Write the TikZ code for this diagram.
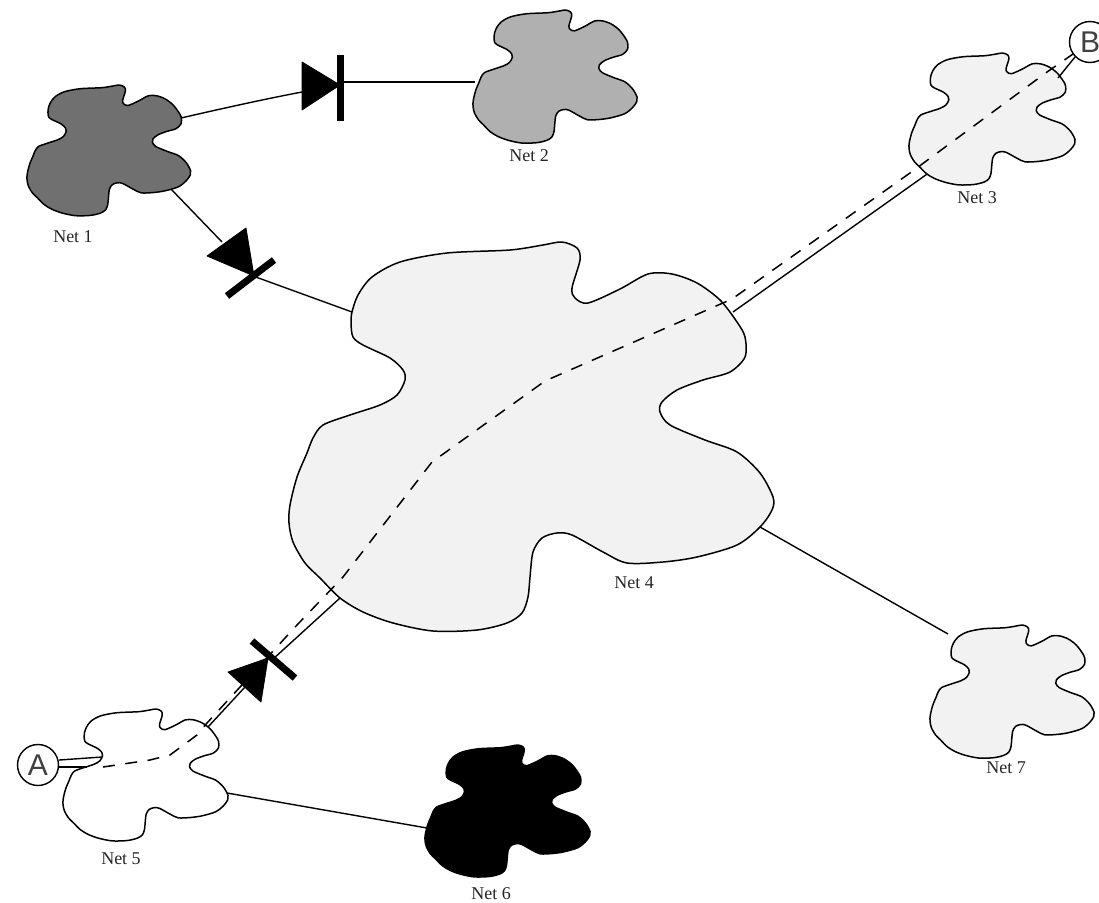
\documentclass[tikz,border=0pt]{standalone}
\usepackage{fontspec}
\setmainfont{Liberation Serif}
\newfontfamily\circfont{Liberation Sans}
\definecolor{netdark}{HTML}{707070}
\definecolor{netmid}{HTML}{B0B0B0}
\definecolor{netpale}{HTML}{F2F2F2}
\newcommand{\netblob}[5]{%
  \begin{scope}[shift={(#2,#3)},xscale=#4,yscale=#5]
    \draw[blobline,fill=#1] plot[smooth cycle,tension=0.5] coordinates {
    (63,70)(69,53)(83,35)(111,20)(158,11)(221,8)(254,3)(273,0)(288,6)(291,18)
    (283,46)(286,56)(299,61)(331,47)(359,32)(383,32)(408,41)(431,58)(448,80)
    (456,95)(456,115)(441,130)(414,138)(388,148)(373,160)(371,170)(381,183)
    (416,198)(448,210)(471,231)(484,255)(483,268)(471,285)(448,303)(408,315)
    (374,320)(338,321)(314,310)(283,293)(268,291)(253,296)(244,310)(241,335)
    (239,355)(233,371)(218,381)(188,388)(144,389)(104,381)(74,370)(51,356)
    (31,336)(16,321)(4,300)(0,281)(1,263)(8,235)(18,211)(24,196)(34,183)(61,173)
    (91,163)(108,153)(116,138)(114,128)(101,116)(74,103)(64,95)(62,81)};
  \end{scope}}
\tikzset{
  blobline/.style={draw=black,line width=1.5pt,line join=round},
  wire/.style={draw=black,line width=1.4pt},
  dashwire/.style={draw=black,line width=1.5pt,dash pattern=on 12pt off 10.5pt},
  netlabel/.style={font=\fontsize{18}{18}\selectfont,text=black!85,inner sep=0pt},
  endcircle/.style={circle,draw=black,line width=1.4pt,fill=white,minimum size=41pt,inner sep=0pt,font=\circfont\fontsize{30}{30}\selectfont,text=black!75},
  diodetri/.style={fill=black,draw=black,line width=0.8pt,line join=round},
  diodebar/.style={draw=black,line width=7pt}
}
\begin{document}
\begin{tikzpicture}[x=1pt,y=-1pt]
\useasboundingbox[fill=white] (0,0) rectangle (1099,902);
\clip (0,0) rectangle (1099,902);
% anchors
\coordinate (n1a) at (181,118);
\coordinate (n1b) at (170,188);
\coordinate (n2a) at (475,82);
\coordinate (n3a) at (930,172);
\coordinate (n3b) at (1058,78);
\coordinate (n4a) at (352,312);
\coordinate (n4b) at (733,312);
\coordinate (n4c) at (340,598);
\coordinate (n4d) at (760,527);
\coordinate (n5a) at (208,727);
\coordinate (n5b) at (227,793);
\coordinate (n5c) at (102,757);
\coordinate (n6a) at (427,828);
\coordinate (n7a) at (948,634);
\coordinate (d1a) at (302,92);
\coordinate (d1k) at (340,82);
\coordinate (d2a) at (222,242);
\coordinate (d2k) at (253,276);
\coordinate (d3a) at (245,687);
\coordinate (d3k) at (272,660);
% connectors under blobs
\draw[wire] (n1a) .. controls (220,109) and (265,99) .. (d1a);
\draw[wire] (d1k) -- (n2a);
\draw[wire] (n1b) -- (d2a);
\draw[wire] (d2k) -- (n4a);
\draw[wire] (n4c) -- (d3k);
\draw[wire] (d3a) -- (n5a);
\draw[wire] (n4d) -- (n7a);
\draw[wire] (n5b) -- (n6a);
\draw[wire] (n3a) -- (n4b);
% blobs
\netblob{netdark}{27}{85}{0.338}{0.336}
\netblob{netmid}{473}{10}{0.339}{0.342}
\netblob{netpale}{909}{53}{0.343}{0.339}
\netblob{netpale}{289}{242}{1}{1}
\netblob{white}{63}{709}{0.341}{0.339}
\netblob{black}{425}{745}{0.341}{0.339}
\netblob{netpale}{930}{625}{0.339}{0.342}
% labels
\node[netlabel] (l1) at (73,237) {Net 1};
\node[netlabel] (l2) at (529,156) {Net 2};
\node[netlabel] (l3) at (977,198) {Net 3};
\node[netlabel] (l4) at (634,583) {Net 4};
\node[netlabel] (l5) at (121,859) {Net 5};
\node[netlabel] (l6) at (491,894) {Net 6};
\node[netlabel] (l7) at (1006,768) {Net 7};
% traced route
\draw[dashwire] (103,767) -- (150,760) -- (170,755) -- (197,735) -- (207,723)
  -- (297,625) -- (343,577) -- (432,462) -- (545,381) -- (732,299)
  -- (910,173) -- (1047,72) -- (1073,54);
% diodes
\fill[diodetri] (302,62) -- (302,110) -- (340,85) -- cycle;
\draw[diodebar] (340,55) -- (340,121);
\fill[diodetri] (207,256) -- (246,228) -- (254,276) -- cycle;
\draw[diodebar] (227,296) -- (274,260);
\fill[diodetri] (228,672) -- (261,702) -- (268,658) -- cycle;
\draw[diodebar] (252,641) -- (295,678);
% end circles
\node[endcircle] (A) at (38,765) {A};
\node[endcircle] (B) at (1090,42) {B};
\draw[wire] (A.east |- 0,760) -- (n5c);
\draw[wire] (A.east |- 0,767) -- (87,767);
\draw[wire] (B.225) -- (n3b);
\end{tikzpicture}
\end{document}
